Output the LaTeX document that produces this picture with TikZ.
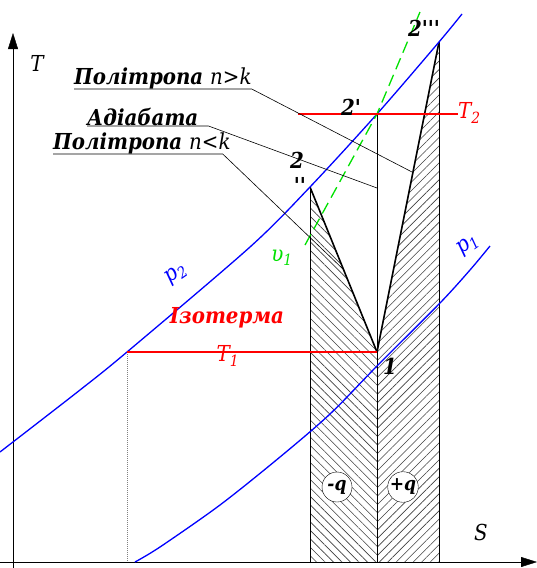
\documentclass[tikz,border=0pt]{standalone}
\usepackage{fontspec}
\newfontfamily\tnr{DejaVu Serif Condensed}
\usetikzlibrary{arrows.meta, patterns.meta, positioning}
\definecolor{isoblue}{RGB}{0, 0, 255}
\definecolor{isored}{RGB}{255, 0, 0}
\definecolor{vgreen}{RGB}{0, 225, 0}

\begin{document}
\begin{tikzpicture}[x=1pt, y=-1pt,
  lbl/.style={font=\tnr\fontsize{22}{24}\selectfont\bfseries\itshape, inner sep=0pt},
  axlbl/.style={font=\tnr\fontsize{22}{24}\selectfont\itshape, inner sep=0pt},
  leader/.style={line width=0.6pt},
  isobar/.style={isoblue, line width=1.3pt},
  hatch/.style={pattern={Lines[angle=#1, distance=6pt, line width=0.6pt]}, pattern color=black!75},
  qcirc/.style={circle, draw, fill=white, inner sep=0pt, minimum size=30pt,
    font=\tnr\fontsize{19}{21}\selectfont\bfseries\itshape}]
\useasboundingbox (0,0) rectangle (537,568);

% state points
\coordinate (one) at (377,352);
\coordinate (twoA) at (377,114);
\coordinate (twoB) at (310,187);
\coordinate (twoC) at (439,42);
\coordinate (isoL) at (127,352);
\coordinate (baseB) at (310,562);
\coordinate (baseA) at (377,562);
\coordinate (baseC) at (439,562);
\coordinate (baseL) at (127,562);

% heat areas
\fill[hatch=-45] (baseB) -- (twoB) -- (one) -- (baseA) -- cycle;
\fill[hatch=45] (baseA) -- (one) -- (twoC) -- (baseC) -- cycle;
\draw (baseB) -- (twoB);
\draw (baseA) -- (twoA);
\draw (baseC) -- (twoC);
\draw[line width=1.6pt] (one) -- (twoB);
\draw[line width=1.6pt] (one) -- (twoC);

% axes
\draw[-{Triangle[length=16pt, width=10pt]}] (13,568) -- (13,33);
\draw[-{Triangle[length=16pt, width=10pt]}] (0,562) -- (537,562);
\node[axlbl] (Tlbl) at (37,63) {T};
\node[axlbl] (Slbl) at (481,532) {S};

% isobars
\draw[isobar] plot[smooth] coordinates {(0,452) (80,390) (127,352) (250,247) (310,187) (377,114) (439,42) (462,14)};
\draw[isobar] plot[smooth] coordinates {(135,562) (160,547) (220,505) (280,457) (330,414) (377,366) (440,303) (470,270) (490,246)};
\node[axlbl, isoblue, rotate=35] (ptwo) at (176,274) {p\textsubscript{2}};
\node[axlbl, isoblue, rotate=35] (pone) at (468,245) {p\textsubscript{1}};

% isochore
\draw[vgreen, line width=1.3pt, dash pattern=on 12pt off 6pt] (305,245) -- (377,114) -- (420,12);
\node[axlbl, vgreen] (vone) at (282,258) {υ\textsubscript{1}};

% isotherms
\draw[gray, densely dotted, line width=1pt] (isoL) -- (baseL);
\draw[isored, line width=1.3pt] (isoL) -- (one);
\draw[isored, line width=1.3pt] (298,114) -- (458,114);
\node[lbl, isored] (izo) at (227,318) {Ізотерма};
\node[axlbl, isored] (Tone) at (228,356) {T\textsubscript{1}};
\node[axlbl, isored, anchor=west] (Ttwo) at (458,113) {T\textsubscript{2}};

% point labels
\node[lbl] (l1) at (390,366) {1};
\node[lbl] (l2a) at (351,107) {2'};
\node[lbl] (l2b) at (297,160) {2};
\node[lbl] (l2bb) at (300,185) {''};
\node[lbl] (l2c) at (424,28) {2'''};

% leaders
\node[lbl, anchor=south west] (polgt) at (74,89) {Політропа {\mdseries n>k}};
\draw[leader] (polgt.south west) -- (polgt.south east) -- (412,172);
\node[lbl, anchor=south west] (adia) at (87,126) {Адіабата};
\draw[leader] (adia.south west) -- ([xshift=10pt]adia.south east) -- (377,188);
\node[lbl, anchor=south west] (pollt) at (53,154) {Політропа {\mdseries n<k}};
\draw[leader] (pollt.south west) -- ([xshift=-8pt]pollt.south east) -- (344,270);

% heat signs
\node[qcirc] (qminus) at (337,487) {-q};
\node[qcirc] (qplus) at (403,487) {+q};
\end{tikzpicture}
\end{document}
